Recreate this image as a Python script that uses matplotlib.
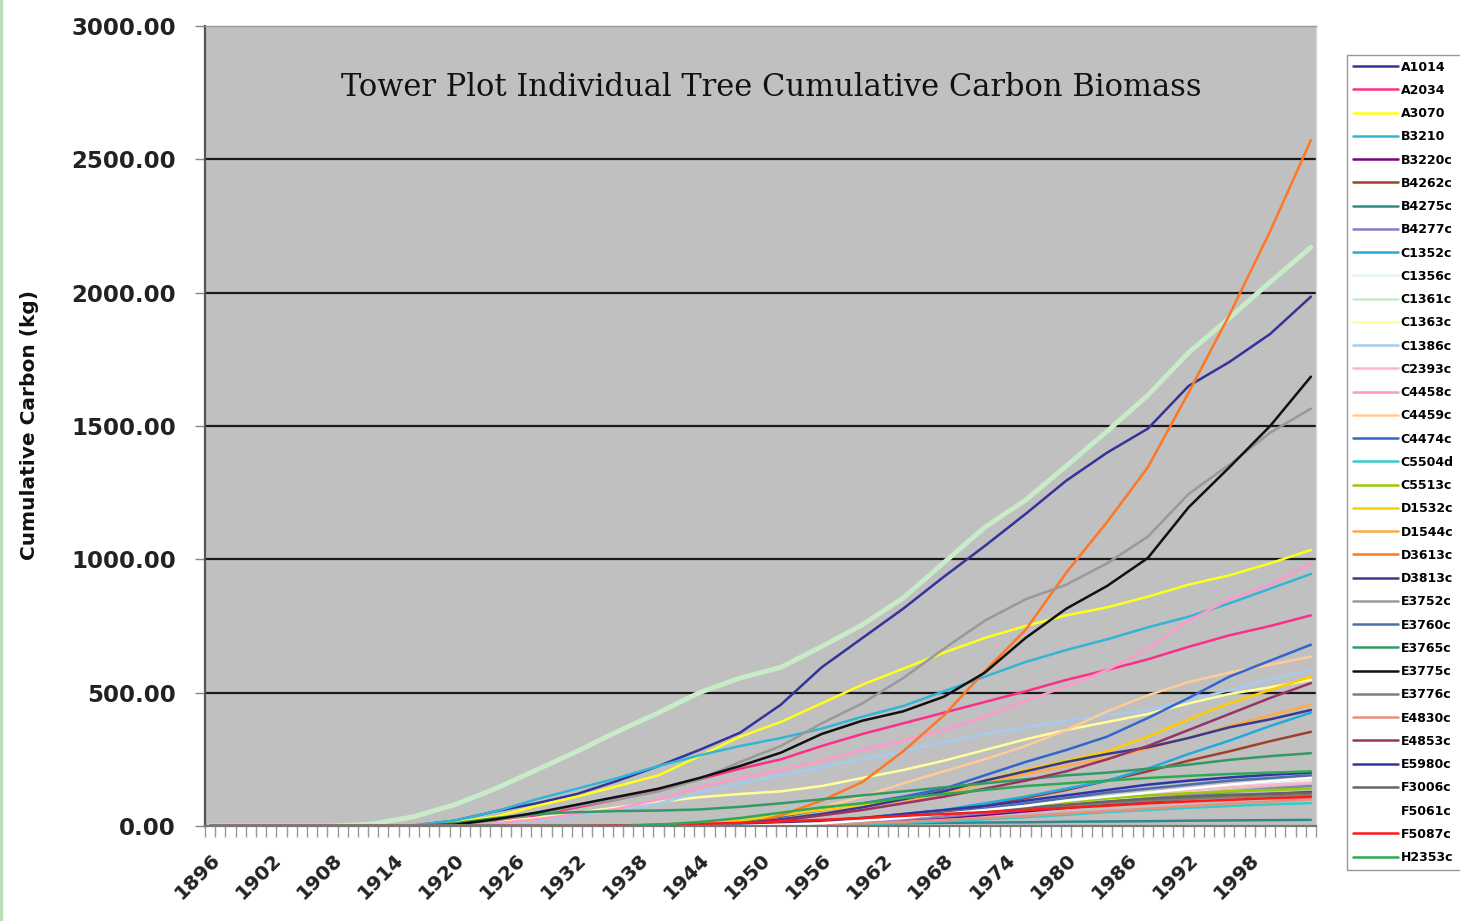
import matplotlib
matplotlib.use("Agg")
import matplotlib.pyplot as plt
from matplotlib.patches import Rectangle

# sample years (every 4 years) for every tree series
years = [1896, 1900, 1904, 1908, 1912, 1916, 1920, 1924, 1928, 1932, 1936, 1940, 1944, 1948,
         1952, 1956, 1960, 1964, 1968, 1972, 1976, 1980, 1984, 1988, 1992, 1996, 2000, 2004]

# cumulative carbon (kg) per tree
A1014 = [0, 0, 0, 0, 0, 2, 20, 55, 85, 120, 170, 225, 285, 350,
         455, 595, 705, 815, 935, 1050, 1170, 1295, 1400, 1490, 1650, 1740, 1845, 1985]
A2034 = [0, 0, 0, 0, 0, 0, 5, 20, 40, 70, 100, 135, 175, 215,
         250, 300, 345, 385, 425, 465, 505, 548, 585, 625, 672, 715, 750, 790]
A3070 = [0, 0, 0, 0, 0, 3, 15, 35, 75, 110, 150, 190, 262, 335,
         390, 460, 530, 590, 650, 705, 750, 790, 820, 860, 905, 940, 985, 1035]
B3210 = [0, 0, 0, 0, 0, 3, 20, 55, 100, 140, 180, 225, 265, 300,
         330, 365, 410, 450, 505, 560, 615, 660, 700, 745, 785, 835, 890, 945]
B3220c = [0, 0, 0, 0, 0, 0, 0, 0, 0, 0, 0, 0, 0, 0,
          0, 5, 10, 20, 30, 42, 55, 68, 80, 92, 103, 113, 120, 127]
B4262c = [0, 0, 0, 0, 0, 0, 0, 0, 0, 0, 0, 0, 0, 0,
          5, 10, 20, 35, 50, 75, 105, 135, 170, 205, 245, 280, 318, 353]
B4275c = [0, 0, 0, 0, 0, 0, 0, 0, 0, 0, 0, 0, 0, 2,
          4, 6, 8, 10, 12, 13, 14, 16, 17, 18, 20, 21, 22, 23]
B4277c = [0, 0, 0, 0, 0, 0, 0, 0, 0, 0, 0, 0, 0, 0,
          3, 8, 15, 25, 35, 48, 60, 75, 90, 103, 115, 128, 140, 150]
C1352c = [0, 0, 0, 0, 0, 0, 0, 0, 0, 0, 0, 0, 0, 3,
          10, 20, 30, 45, 60, 85, 110, 140, 170, 215, 270, 320, 375, 425]
C1356c = [0, 0, 0, 0, 0, 0, 0, 0, 0, 0, 0, 0, 0, 0,
          5, 12, 20, 30, 42, 55, 70, 85, 100, 115, 130, 145, 158, 170]
C1361c = [0, 0, 0, 0, 8, 35, 80, 140, 210, 280, 355, 425, 500, 555,
          595, 673, 755, 855, 988, 1120, 1222, 1350, 1480, 1615, 1775, 1905, 2040, 2170]
C1363c = [0, 0, 0, 0, 0, 0, 5, 15, 30, 50, 70, 90, 108, 120,
          130, 150, 180, 210, 245, 285, 325, 360, 390, 420, 460, 495, 520, 548]
C1386c = [0, 0, 0, 0, 0, 0, 0, 5, 20, 40, 60, 85, 125, 160,
          190, 220, 250, 280, 315, 345, 370, 395, 415, 435, 470, 510, 550, 585]
C2393c = [0, 0, 0, 0, 0, 0, 0, 0, 0, 0, 0, 0, 0, 3,
          8, 15, 25, 35, 48, 60, 75, 90, 105, 120, 133, 145, 155, 162]
C4458c = [0, 0, 0, 0, 0, 0, 0, 10, 25, 45, 65, 100, 145, 180,
          210, 245, 285, 320, 360, 410, 470, 523, 585, 665, 770, 850, 905, 986]
C4459c = [0, 0, 0, 0, 0, 0, 0, 0, 0, 0, 0, 0, 5, 15,
          35, 70, 110, 160, 205, 250, 300, 360, 430, 490, 540, 575, 605, 635]
C4474c = [0, 0, 0, 0, 0, 0, 0, 0, 0, 0, 0, 0, 5, 15,
          35, 60, 85, 110, 140, 190, 240, 285, 335, 405, 480, 560, 620, 680]
C5504d = [0, 0, 0, 0, 0, 0, 0, 0, 0, 0, 0, 0, 0, 0,
          0, 3, 6, 12, 18, 25, 33, 42, 52, 60, 68, 75, 81, 86]
C5513c = [0, 0, 0, 0, 0, 0, 0, 0, 0, 0, 0, 0, 0, 0,
          8, 20, 30, 42, 52, 63, 75, 90, 103, 115, 123, 130, 135, 140]
D1532c = [0, 0, 0, 0, 0, 0, 0, 0, 0, 0, 0, 2, 8, 20,
          40, 60, 80, 100, 125, 170, 210, 245, 280, 335, 400, 460, 510, 560]
D1544c = [0, 0, 0, 0, 0, 0, 0, 0, 0, 0, 0, 0, 3, 10,
          25, 45, 70, 95, 120, 160, 195, 225, 255, 290, 330, 375, 415, 455]
D3613c = [0, 0, 0, 0, 0, 0, 0, 0, 0, 0, 0, 0, 0, 0,
          40, 95, 165, 280, 415, 580, 735, 950, 1140, 1345, 1625, 1916, 2230, 2572]
D3813c = [0, 0, 0, 0, 0, 0, 0, 0, 0, 0, 0, 0, 3, 10,
          25, 45, 70, 100, 130, 170, 205, 240, 270, 295, 330, 370, 400, 435]
E3752c = [0, 0, 0, 0, 0, 0, 5, 20, 45, 75, 100, 130, 175, 240,
          300, 385, 460, 555, 665, 770, 850, 905, 985, 1085, 1245, 1355, 1475, 1565]
E3760c = [0, 0, 0, 0, 0, 0, 0, 0, 0, 0, 0, 0, 0, 0,
          5, 10, 20, 35, 50, 65, 85, 105, 125, 140, 155, 170, 180, 190]
E3765c = [0, 0, 0, 0, 0, 0, 10, 30, 45, 52, 56, 58, 62, 72,
          85, 100, 115, 130, 145, 160, 175, 190, 200, 215, 230, 248, 262, 273]
E3775c = [0, 0, 0, 0, 0, 0, 5, 25, 50, 80, 110, 140, 180, 225,
          275, 345, 395, 430, 485, 575, 705, 815, 900, 1005, 1195, 1345, 1500, 1685]
E3776c = [0, 0, 0, 0, 0, 0, 0, 0, 0, 0, 0, 0, 0, 0,
          8, 18, 25, 35, 45, 55, 63, 75, 85, 95, 102, 108, 112, 116]
E4830c = [0, 0, 0, 0, 0, 0, 0, 0, 0, 0, 0, 0, 0, 0,
          3, 6, 10, 16, 23, 30, 38, 47, 56, 65, 75, 84, 92, 100]
E4853c = [0, 0, 0, 0, 0, 0, 0, 0, 0, 0, 0, 0, 0, 5,
          20, 40, 60, 85, 110, 140, 170, 205, 250, 300, 360, 420, 480, 536]
E5980c = [0, 0, 0, 0, 0, 0, 0, 0, 0, 0, 0, 0, 0, 5,
          10, 20, 30, 45, 60, 75, 95, 115, 135, 155, 170, 182, 192, 200]
F3006c = [0, 0, 0, 0, 0, 0, 0, 0, 0, 0, 0, 0, 0, 0,
          5, 12, 20, 30, 42, 55, 68, 80, 92, 102, 110, 117, 121, 125]
F5061c = [0, 0, 0, 0, 0, 0, 0, 0, 0, 0, 0, 0, 0, 0,
          5, 10, 20, 30, 45, 60, 75, 95, 110, 125, 140, 155, 168, 180]
F5087c = [0, 0, 0, 0, 0, 0, 0, 0, 0, 0, 2, 5, 8, 12,
          17, 23, 30, 38, 45, 52, 60, 68, 76, 85, 92, 98, 104, 109]
H2353c = [0, 0, 0, 0, 0, 0, 0, 0, 0, 0, 0, 5, 15, 30,
          50, 70, 85, 105, 120, 135, 150, 160, 170, 180, 188, 195, 200, 205]

tree_names = ["A1014", "A2034", "A3070", "B3210", "B3220c", "B4262c", "B4275c", "B4277c",
              "C1352c", "C1356c", "C1361c", "C1363c", "C1386c", "C2393c", "C4458c", "C4459c",
              "C4474c", "C5504d", "C5513c", "D1532c", "D1544c", "D3613c", "D3813c", "E3752c",
              "E3760c", "E3765c", "E3775c", "E3776c", "E4830c", "E4853c", "E5980c", "F3006c",
              "F5061c", "F5087c", "H2353c"]
tree_values = [A1014, A2034, A3070, B3210, B3220c, B4262c, B4275c, B4277c,
               C1352c, C1356c, C1361c, C1363c, C1386c, C2393c, C4458c, C4459c,
               C4474c, C5504d, C5513c, D1532c, D1544c, D3613c, D3813c, E3752c,
               E3760c, E3765c, E3775c, E3776c, E4830c, E4853c, E5980c, F3006c,
               F5061c, F5087c, H2353c]
tree_colors = ["#333399", "#ff2d8a", "#ffff1a", "#33b5d6", "#800080", "#a0402a", "#2e8b8b", "#8080c8",
               "#22aadd", "#e8f4f4", "#c8ecc8", "#ffff99", "#a6caf0", "#ffb6c8", "#ff99cc", "#ffcc99",
               "#3366cc", "#33cccc", "#99cc00", "#ffcc00", "#ffaa44", "#ff7722", "#3a3a8c", "#999999",
               "#4f6ea8", "#339966", "#111111", "#808070", "#e8907a", "#993366", "#3333aa", "#666666",
               "#ffffff", "#ff1a1a", "#2eaa55"]

label_years = [1896, 1902, 1908, 1914, 1920, 1926, 1932, 1938, 1944, 1950, 1956, 1962, 1968,
               1974, 1980, 1986, 1992, 1998]
y_ticks = [0, 500, 1000, 1500, 2000, 2500, 3000]

W, H = 1460, 921
fig = plt.figure(figsize=(W / 100, H / 100), dpi=100)
fig.patches.append(Rectangle((0, 0), 2 / W, 1, transform=fig.transFigure,
                             color="#bcdcbc", zorder=0))

ax = fig.add_axes([205 / W, 1 - 826 / H, (1316 - 205) / W, (826 - 26) / H])
ax.set_facecolor("#c0c0c0")
ax.set_axisbelow(True)

lines = []
for name, vals, col in zip(tree_names, tree_values, tree_colors):
    lw = 3.5 if name == "C1361c" else 1.8
    ln, = ax.plot(years, vals, color=col, lw=lw, label=name, solid_capstyle="round")
    lines.append(ln)

ax.set_xlim(1895.5, 2004.5)
ax.set_ylim(0, 3000)

# y axis
ax.set_yticks(y_ticks)
ax.set_yticklabels(["%.2f" % v for v in y_ticks], fontsize=16.5, fontweight="bold", color="#222222")
ax.yaxis.grid(True, color="#1a1a1a", lw=1.6)
grid = ax.get_ygridlines()
grid[0].set_visible(False)
grid[-1].set_visible(False)
ax.tick_params(axis="y", length=7, width=1, color="#888888", pad=14)

# x axis: category ticks every year, labels every 6 years
ax.set_xticks(label_years)
ax.set_xticklabels([str(y) for y in label_years], rotation=45, ha="right", va="top",
                   rotation_mode="anchor", fontsize=14.5, fontweight="bold", color="#222222")
ax.set_xticks([y - 0.5 for y in range(1896, 2006)], minor=True)
ax.tick_params(axis="x", which="major", length=0, pad=17)
ax.tick_params(axis="x", which="minor", length=8, width=1, color="#999999")

for side, col, lw in [("left", "#555555", 1.6), ("bottom", "#777777", 1.6),
                      ("top", "#999999", 1.0), ("right", "#d8d8d8", 1.0)]:
    ax.spines[side].set_color(col)
    ax.spines[side].set_linewidth(lw)

fig.text(771 / W, 1 - 88 / H, "Tower Plot Individual Tree Cumulative Carbon Biomass",
         ha="center", va="center", family="DejaVu Serif", fontsize=22, color="#111111")
fig.text(30 / W, 1 - 425 / H, "Cumulative Carbon (kg)", rotation=90, ha="center", va="center",
         fontsize=14.5, fontweight="bold", color="#111111")

# legend box runs past the right edge of the figure
leg = ax.legend(handles=lines, loc="upper left",
                bbox_to_anchor=(1347 / W, 1 - 870 / H, 130 / W, 815 / H), mode="expand",
                bbox_transform=fig.transFigure, frameon=True, fancybox=False,
                edgecolor="#999999", framealpha=1, prop={"size": 9, "weight": "bold"},
                handlelength=3.6, handletextpad=0.25, labelspacing=0.82, borderpad=0.45,
                borderaxespad=0)
for h in leg.get_lines():
    h.set_linewidth(1.8)

fig.savefig("out.png", dpi=100)
